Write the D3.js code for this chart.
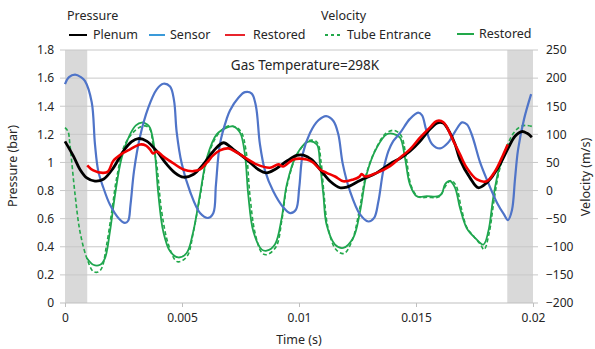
<!DOCTYPE html>
<head>
  <meta charset="utf-8">
  <script src="https://d3js.org/d3.v7.min.js"></script>
  <style>
    body { margin: 0; background: #fff; }
    text { font-family: "Noto Sans", sans-serif; fill: #262626; }
  </style>
</head>
<body>
  <div class="chart"></div>
  <script>
    // pressure (bar) - left axis
    var tPlenum = [0, 0.00036, 0.00064, 0.00093, 0.00128, 0.00164, 0.00206, 0.00249, 0.00285, 0.00313, 0.00349, 0.00392, 0.00435, 0.0047, 0.00506, 0.00548, 0.00591, 0.00634, 0.00677, 0.00719, 0.00777, 0.00826, 0.00862, 0.00897, 0.00948, 0.0099, 0.01019, 0.01054, 0.0109, 0.01133, 0.01175, 0.01204, 0.01261, 0.01332, 0.01389, 0.01432, 0.01474, 0.01517, 0.01551, 0.01589, 0.01616, 0.01645, 0.01667, 0.01688, 0.01731, 0.01766, 0.01802, 0.01829, 0.01859, 0.01895, 0.01923, 0.01952, 0.01975, 0.01995]
    var pPlenum = [1.15, 1.045, 0.95, 0.89, 0.867, 0.88, 0.96, 1.08, 1.148, 1.17, 1.152, 1.08, 0.986, 0.926, 0.895, 0.914, 0.986, 1.08, 1.14, 1.093, 1.02, 0.95, 0.926, 0.95, 1.01, 1.05, 1.052, 1.02, 0.95, 0.866, 0.82, 0.824, 0.871, 0.926, 0.99, 1.03, 1.08, 1.15, 1.22, 1.28, 1.28, 1.21, 1.13, 1.02, 0.89, 0.82, 0.855, 0.907, 0.986, 1.105, 1.186, 1.22, 1.207, 1.18]

    var tSensor = [0, 0.00017, 0.00043, 0.00068, 0.00085, 0.00114, 0.00128, 0.00142, 0.00164, 0.00192, 0.00228, 0.00256, 0.0027, 0.0028, 0.00295, 0.0032, 0.00356, 0.00392, 0.0042, 0.00449, 0.00466, 0.00477, 0.00499, 0.00534, 0.00577, 0.00612, 0.00634, 0.00645, 0.00662, 0.00691, 0.00705, 0.00741, 0.00769, 0.00798, 0.00816, 0.00833, 0.00855, 0.0089, 0.00933, 0.00962, 0.00987, 0.01001, 0.01016, 0.01047, 0.01083, 0.01116, 0.01147, 0.01168, 0.01187, 0.01218, 0.01261, 0.01296, 0.01321, 0.01339, 0.0136, 0.01382, 0.01402, 0.01432, 0.01474, 0.01509, 0.01526, 0.01543, 0.01569, 0.01603, 0.01637, 0.01667, 0.01697, 0.01718, 0.0174, 0.01774, 0.01808, 0.01846, 0.01876, 0.01893, 0.0191, 0.01923, 0.01936, 0.01962, 0.01992]
    var pSensor = [1.557, 1.607, 1.625, 1.607, 1.58, 1.43, 1.13, 0.94, 0.82, 0.70, 0.605, 0.57, 0.585, 0.70, 0.94, 1.18, 1.39, 1.52, 1.56, 1.54, 1.44, 1.22, 0.99, 0.795, 0.64, 0.605, 0.64, 0.84, 1.13, 1.31, 1.37, 1.46, 1.50, 1.49, 1.40, 1.13, 0.94, 0.795, 0.68, 0.64, 0.665, 0.82, 1.06, 1.21, 1.30, 1.33, 1.295, 1.20, 0.99, 0.795, 0.63, 0.58, 0.605, 0.72, 0.94, 1.08, 1.15, 1.21, 1.31, 1.355, 1.335, 1.235, 1.13, 1.10, 1.14, 1.22, 1.285, 1.27, 1.19, 1.0, 0.857, 0.714, 0.63, 0.59, 0.66, 0.88, 1.09, 1.31, 1.486]

    var tRestoredP = [0.00095, 0.00121, 0.00164, 0.00184, 0.00206, 0.00239, 0.00278, 0.00321, 0.00346, 0.00363, 0.00376, 0.00393, 0.00419, 0.00449, 0.00506, 0.00548, 0.00577, 0.00606, 0.00633, 0.00662, 0.00698, 0.00727, 0.00748, 0.00819, 0.00876, 0.00912, 0.00932, 0.00976, 0.01033, 0.0106, 0.0109, 0.01118, 0.01154, 0.01189, 0.01232, 0.01257, 0.01268, 0.01282, 0.01332, 0.01389, 0.01432, 0.01474, 0.01517, 0.0156, 0.01589, 0.01617, 0.0166, 0.01688, 0.01717, 0.0176, 0.01802, 0.01838, 0.01873, 0.01892]
    var pRestored = [0.98, 0.943, 0.926, 0.936, 1.01, 1.057, 1.093, 1.128, 1.12, 1.093, 1.064, 1.078, 1.043, 1.01, 0.95, 0.938, 0.95, 0.998, 1.05, 1.086, 1.10, 1.078, 1.057, 0.986, 0.962, 0.986, 0.971, 1.021, 1.021, 1.0, 0.95, 0.926, 0.9, 0.866, 0.879, 0.897, 0.918, 0.9, 0.926, 0.974, 1.034, 1.093, 1.176, 1.25, 1.295, 1.286, 1.152, 1.057, 0.962, 0.879, 0.866, 0.938, 1.057, 1.128]

    // velocity (m/s) - right axis
    var tTube = [0, 0.00013, 0.00021, 0.00043, 0.00064, 0.00093, 0.00121, 0.00141, 0.00157, 0.00178, 0.002, 0.00221, 0.00256, 0.00306, 0.00342, 0.00363, 0.00376, 0.00392, 0.00413, 0.00442, 0.00477, 0.005, 0.00526, 0.00548, 0.00577, 0.00607, 0.0065, 0.00692, 0.00722, 0.00752, 0.00774, 0.0079, 0.00812, 0.00842, 0.00863, 0.00902, 0.00927, 0.00949, 0.00992, 0.01043, 0.01077, 0.01094, 0.01107, 0.01124, 0.01158, 0.01192, 0.01227, 0.01257, 0.01286, 0.01329, 0.01372, 0.01406, 0.01436, 0.01457, 0.01479, 0.01509, 0.01551, 0.01598, 0.01628, 0.0165, 0.01671, 0.01693, 0.01718, 0.01748, 0.01774, 0.01791, 0.01812, 0.01834, 0.01855, 0.01885, 0.0191, 0.0194, 0.0197, 0.01996]
    var vTube = [112, 105, 82, -7, -73, -120, -144, -145, -138, -96, -37, 23, 82, 109, 115, 109, 82, 46, -37, -96, -126, -125, -114, -75, -11, 55, 98, 114, 114, 105, 70, -7, -75, -111, -114, -100, -52, 9, 64, 89, 86, 52, -7, -66, -105, -112, -89, -37, 27, 75, 102, 107, 98, 62, 9, -11, -12, -11, 9, 18, 9, -30, -66, -82, -95, -105, -77, -16, 34, 73, 98, 112, 116, 114]

    var tRestoredV = [0.00093, 0.00121, 0.0015, 0.00171, 0.00192, 0.00214, 0.00242, 0.00278, 0.00303, 0.00328, 0.0035, 0.00363, 0.00376, 0.00385, 0.00399, 0.0042, 0.00449, 0.00484, 0.0052, 0.00548, 0.00577, 0.00606, 0.00648, 0.00691, 0.00718, 0.00748, 0.00769, 0.00783, 0.00805, 0.00841, 0.00862, 0.00897, 0.00926, 0.00948, 0.0099, 0.0104, 0.01076, 0.0109, 0.01104, 0.01118, 0.01154, 0.01189, 0.01232, 0.01261, 0.01289, 0.01332, 0.01375, 0.01403, 0.01432, 0.01453, 0.01474, 0.01503, 0.01546, 0.01596, 0.01611, 0.01624, 0.01645, 0.01667, 0.01688, 0.01717, 0.01752, 0.01788, 0.01809, 0.0183, 0.01852, 0.0188, 0.01893]
    var vRestored = [-120, -132, -132, -120, -73, -7, 58, 100, 116, 121, 118, 112, 91, 64, -7, -73, -108, -119, -111, -73, -7, 58, 100, 112, 114, 103, 64, -7, -73, -105, -107, -96, -49, 11, 64, 87, 82, 46, -7, -61, -96, -102, -84, -37, 29, 76, 100, 101, 94, 58, 11, -10, -10, -10, -5, 11, 17, 5, -31, -67, -84, -96, -73, -13, 34, 70, 82]

    var xTicks = [0, 0.005, 0.01, 0.015, 0.02]
    var pTicks = [0, 0.2, 0.4, 0.6, 0.8, 1, 1.2, 1.4, 1.6, 1.8]
    var vTicks = [-200, -150, -100, -50, 0, 50, 100, 150, 200, 250]
    var shadedBands = [[0, 0.00095], [0.0189, 0.02]]

    var width = 595, height = 349
    var plotLeft = 65, plotRight = 533, plotTop = 50, plotBottom = 303

    var svg = d3.select(".chart").append("svg")
      .attr("width", width)
      .attr("height", height)

    var x = d3.scaleLinear().domain([0, 0.02]).range([plotLeft, plotRight])
    var yP = d3.scaleLinear().domain([0, 1.8]).range([plotBottom, plotTop])
    var yV = d3.scaleLinear().domain([-200, 250]).range([plotBottom, plotTop])

    // grey bands
    svg.selectAll(".band")
      .data(shadedBands)
      .enter().append("rect")
      .attr("x", function(d) { return x(d[0]) })
      .attr("width", function(d) { return x(d[1]) - x(d[0]) })
      .attr("y", plotTop)
      .attr("height", plotBottom - plotTop)
      .attr("fill", "#d9d9d9")

    // gridlines
    svg.selectAll(".grid")
      .data(pTicks.slice(1))
      .enter().append("line")
      .attr("x1", plotLeft - 5)
      .attr("x2", plotRight + 5)
      .attr("y1", function(d) { return yP(d) })
      .attr("y2", function(d) { return yP(d) })
      .attr("stroke", "#c8c8c8")
      .attr("stroke-width", 1)

    var xAxis = svg.append("g")
      .attr("transform", "translate(0," + plotBottom + ")")
      .call(d3.axisBottom(x).tickValues(xTicks).tickFormat(d3.format("")).tickSize(4).tickPadding(6))
    xAxis.select(".domain").attr("stroke", "#bfbfbf").attr("d", "M" + (plotLeft - 5) + ",0H" + (plotRight + 5))
    xAxis.selectAll(".tick line").attr("stroke", "#bfbfbf")

    var yAxisL = svg.append("g")
      .attr("transform", "translate(" + plotLeft + ",0)")
      .call(d3.axisLeft(yP).tickValues(pTicks).tickFormat(d3.format("")).tickSize(0).tickPadding(11))
    yAxisL.select(".domain").remove()

    var yAxisR = svg.append("g")
      .attr("transform", "translate(" + plotRight + ",0)")
      .call(d3.axisRight(yV).tickValues(vTicks).tickSize(0).tickPadding(13))
    yAxisR.select(".domain").remove()

    svg.selectAll(".tick text")
      .style("font-family", "'Noto Sans', sans-serif")
      .style("font-size", "12px")
      .attr("fill", "#262626")

    var line = d3.line().curve(d3.curveCatmullRom.alpha(0.5))

    function pts(ts, vs, yScale) {
      return ts.map(function(t, i) { return [x(t), yScale(vs[i])] })
    }

    svg.append("path").attr("d", line(pts(tTube, vTube, yV)))
      .attr("fill", "none").attr("stroke", "#22a84a").attr("stroke-width", 1.6)
      .attr("stroke-dasharray", "4,2.5")
    svg.append("path").attr("d", line(pts(tRestoredV, vRestored, yV)))
      .attr("fill", "none").attr("stroke", "#1fa64f").attr("stroke-width", 1.8)
    svg.append("path").attr("d", line(pts(tSensor, pSensor, yP)))
      .attr("fill", "none").attr("stroke", "#4f74c8").attr("stroke-width", 2.2)
    svg.append("path").attr("d", line(pts(tPlenum, pPlenum, yP)))
      .attr("fill", "none").attr("stroke", "#000").attr("stroke-width", 2.8)
    svg.append("path").attr("d", line(pts(tRestoredP, pRestored, yP)))
      .attr("fill", "none").attr("stroke", "#f00000").attr("stroke-width", 2.6)

    // title
    svg.append("text")
      .attr("x", 305).attr("y", 70)
      .attr("text-anchor", "middle")
      .style("font-size", "13.5px")
      .text("Gas Temperature=298K")

    // axis titles
    svg.append("text")
      .attr("x", 299).attr("y", 344)
      .attr("text-anchor", "middle")
      .style("font-size", "12.5px")
      .text("Time (s)")
    svg.append("text")
      .attr("transform", "translate(17,166) rotate(-90)")
      .attr("text-anchor", "middle")
      .style("font-size", "12.5px")
      .text("Pressure (bar)")
    svg.append("text")
      .attr("transform", "translate(590,177) rotate(-90)")
      .attr("text-anchor", "middle")
      .style("font-size", "12.5px")
      .text("Velocity (m/s)")

    // legend
    svg.append("text").attr("x", 67).attr("y", 20).style("font-size", "12.5px").text("Pressure")
    svg.append("text").attr("x", 321).attr("y", 20).style("font-size", "12.5px").text("Velocity")

    var legendItems = [
      { label: "Plenum", color: "#000", x1: 69, x2: 87, dash: null, tx: 93 },
      { label: "Sensor", color: "#3a9ad9", x1: 149, x2: 165, dash: null, tx: 170 },
      { label: "Restored", color: "#e8242c", x1: 225, x2: 245, dash: null, tx: 253 },
      { label: "Tube Entrance", color: "#22a84a", x1: 325, x2: 342, dash: "3,3", tx: 347 },
      { label: "Restored", color: "#22a84a", x1: 457, x2: 474, dash: null, tx: 479 }
    ]
    var leg = svg.selectAll(".legend")
      .data(legendItems)
      .enter().append("g")
    leg.append("line")
      .attr("x1", function(d) { return d.x1 })
      .attr("x2", function(d) { return d.x2 })
      .attr("y1", function(d, i) { return i == 4 ? 34 : 35 })
      .attr("y2", function(d, i) { return i == 4 ? 34 : 35 })
      .attr("stroke", function(d) { return d.color })
      .attr("stroke-width", 2)
      .attr("stroke-dasharray", function(d) { return d.dash })
    leg.append("text")
      .attr("x", function(d) { return d.tx })
      .attr("y", function(d, i) { return i == 4 ? 38 : 39 })
      .style("font-size", "12.5px")
      .text(function(d) { return d.label })
  </script>
</body>
